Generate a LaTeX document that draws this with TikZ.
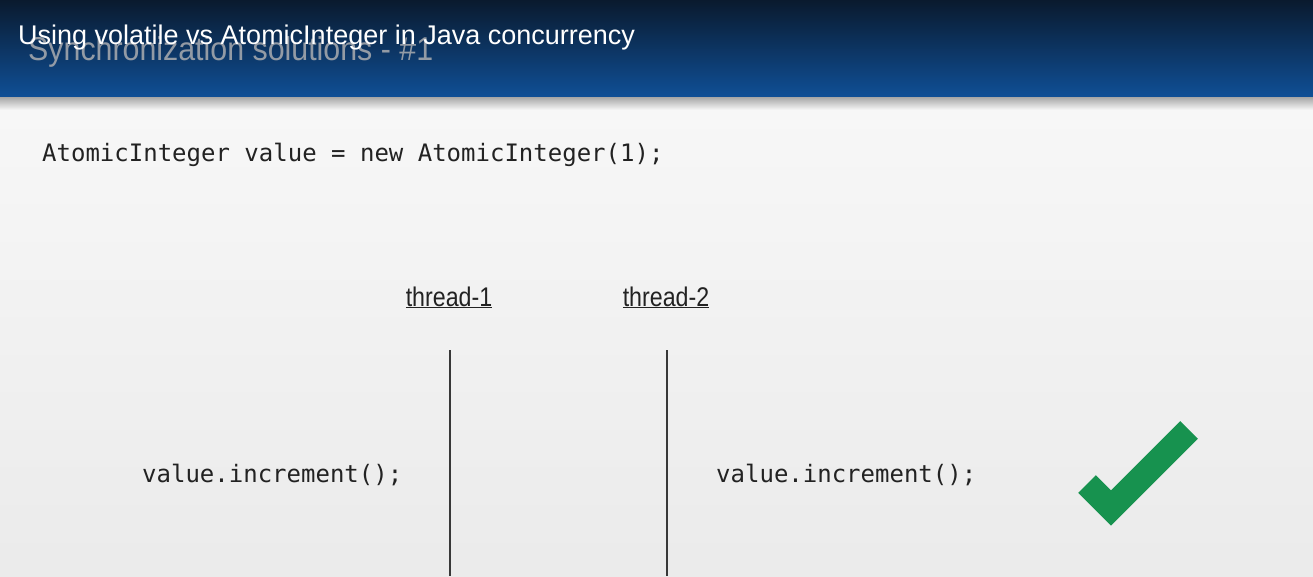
\documentclass[tikz,border=0pt]{standalone}
\usepackage{fontspec}
\usetikzlibrary{positioning,calc}
\setmainfont{Liberation Sans}
\newfontfamily\codefont{DejaVu Sans Mono}
\newfontfamily\titlefont{Liberation Sans}
\newfontfamily\condfont[FakeStretch=0.86]{Liberation Sans}
\newfontfamily\ghostfont[FakeStretch=0.92]{Liberation Sans}
\definecolor{headtop}{HTML}{0A1A2E}
\definecolor{headbot}{HTML}{0F4F96}
\definecolor{ink}{HTML}{222222}
\definecolor{ghost}{HTML}{A2A6AC}
\definecolor{okgreen}{HTML}{17924F}

\begin{document}
\begin{tikzpicture}[
    x=1pt, y=-1pt,
    % --- Styles ---
    title/.style={text=white, inner sep=0pt, font=\titlefont\fontsize{27}{30}\selectfont},
    ghosttitle/.style={text=ghost, opacity=0.9, inner sep=0pt, font=\ghostfont\fontsize{33}{36}\selectfont},
    code/.style={text=ink, inner sep=0pt, font=\codefont\fontsize{24}{28}\selectfont},
    thread/.style={text=ink, inner sep=0pt, font=\condfont\fontsize{27}{30}\selectfont},
    lifeline/.style={draw=ink!90, line width=1.4pt},
    tick/.style={draw=okgreen, line width=25pt, line join=miter},
]

% === Background and header band ===
\useasboundingbox (0,0) rectangle (1313,576);
\shade[top color=white!97!black, bottom color=white!92!black] (0,97) rectangle (1313,576);
\shade[top color=headtop, bottom color=headbot] (0,0) rectangle (1313,97);
\shade[top color=black!35, bottom color=white!97!black] (0,97) rectangle (1313,110);

% === Titles ===
\node[ghosttitle, anchor=base west] (sub) at (28,60) {Synchronization solutions - \#1};
\node[title, anchor=base west] (ttl) at (18,44) {Using volatile vs AtomicInteger in Java concurrency};

% === Declaration ===
\node[code, anchor=base west] (decl) at (42,161) {AtomicInteger value = new AtomicInteger(1);};

% === Threads ===
\node[thread, anchor=base] (t1) at (449,306) {\underline{thread-1}};
\node[thread, anchor=base] (t2) at (666,306) {\underline{thread-2}};

\coordinate (t1top) at (450,350);
\coordinate (t1bot) at (450,576);
\coordinate (t2top) at (667,350);
\coordinate (t2bot) at (667,576);
\draw[lifeline] (t1top) -- (t1bot);
\draw[lifeline] (t2top) -- (t2bot);

% === Calls ===
\node[code, anchor=base west] (inc1) at (142,482) {value.increment();};
\node[code, anchor=base west] (inc2) at (716,482) {value.increment();};

% === Check mark ===
\coordinate (c1) at (1087,484);
\coordinate (c2) at (1111,508);
\coordinate (c3) at (1189,430);
\draw[tick] (c1) -- (c2) -- (c3);

\end{tikzpicture}
\end{document}
